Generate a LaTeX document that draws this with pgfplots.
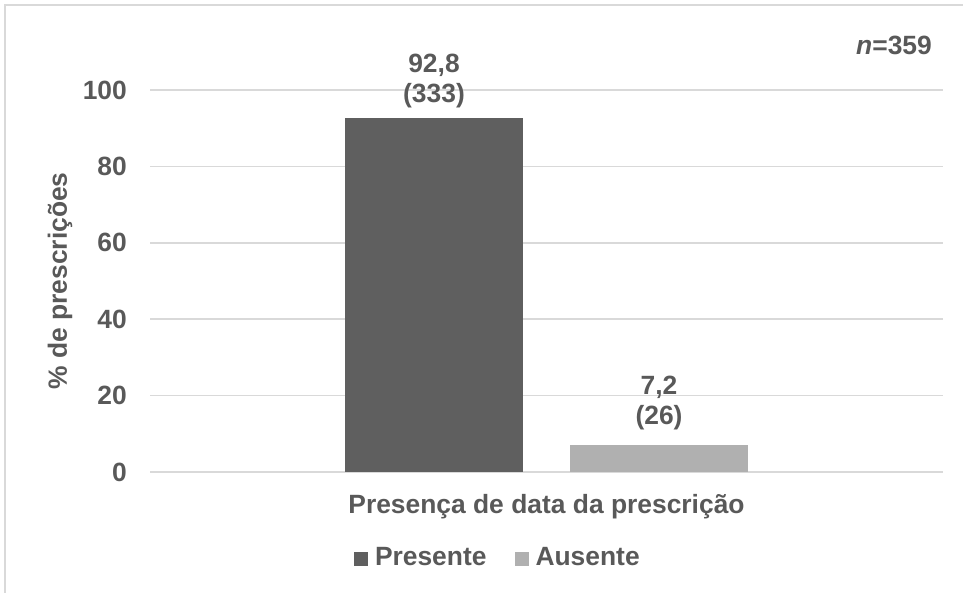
\documentclass[border=0pt]{standalone}
\usepackage{pgfplots}
\pgfplotsset{compat=1.18}
\usepackage{fontspec}
\setmainfont{Liberation Sans}
\definecolor{txt}{HTML}{595959}
\definecolor{darkbar}{HTML}{5F5F5F}
\definecolor{lightbar}{HTML}{B0B0B0}
\definecolor{gridc}{HTML}{D9D9D9}
\newcommand{\bigf}{\fontsize{26.5}{30}\selectfont\bfseries}
\begin{document}
\begin{tikzpicture}
\useasboundingbox (0bp,0bp) rectangle (963bp,-593bp);
\draw[gridc, line width=1.5bp] (5bp,-600bp) -- (5bp,-5bp) -- (970bp,-5bp);
\begin{axis}[
  at={(150bp,-472bp)}, anchor=south west,
  scale only axis, width=793bp, height=382bp,
  xmin=0, xmax=1, ymin=0, ymax=100,
  ybar, bar width=178bp,
  xtick=\empty, ytick={0,20,40,60,80,100},
  ymajorgrids, grid style={gridc, line width=1.5bp},
  axis line style={draw=none},
  major tick length=0pt,
  /pgf/number format/assume math mode=true,
  yticklabel style={font=\bigf, text=txt, anchor=east, inner sep=0pt, xshift=-23bp},
  ylabel={\% de prescrições},
  ylabel style={at={([xshift=-83bp]axis description cs:0,0.5)}, anchor=base, font=\bigf, text=txt, inner sep=0pt},
  xlabel={Presença de data da prescrição},
  xlabel style={at={([yshift=-41bp]axis description cs:0.5,0)}, anchor=base, font=\bigf, text=txt, inner sep=0pt},
  legend columns=2,
  legend style={at={([xshift=204bp,yshift=-95bp]axis description cs:0,0)}, anchor=south west,
    draw=none, fill=none, inner sep=0pt, outer sep=0pt, font=\bigf, text=txt,
    nodes={inner sep=0pt},
    /tikz/every odd column/.append style={column sep=7bp},
    /tikz/every even column/.append style={column sep=28bp}},
  legend image code/.code={\fill[#1] (0bp,-9bp) rectangle (14bp,5bp);},
  every node near coord/.append style={font=\bigf, text=txt, align=center, anchor=south, inner sep=0pt},
  clip=false,
]
\addplot[fill=darkbar, draw=none, bar shift=-112.5bp,
  nodes near coords={92,8\\(333)},
  every node near coord/.append style={yshift=9bp}] coordinates {(0.5,92.8)};
\addlegendentry{Presente}
\addplot[fill=lightbar, draw=none, bar shift=112.5bp,
  nodes near coords={7,2\\(26)},
  every node near coord/.append style={yshift=14bp}] coordinates {(0.5,7.2)};
\addlegendentry{Ausente}
\end{axis}
\node[anchor=base east, text=txt, font=\bigf, inner sep=0pt] at (932bp,-54bp) {\textit{n}=359};
\end{tikzpicture}
\end{document}
